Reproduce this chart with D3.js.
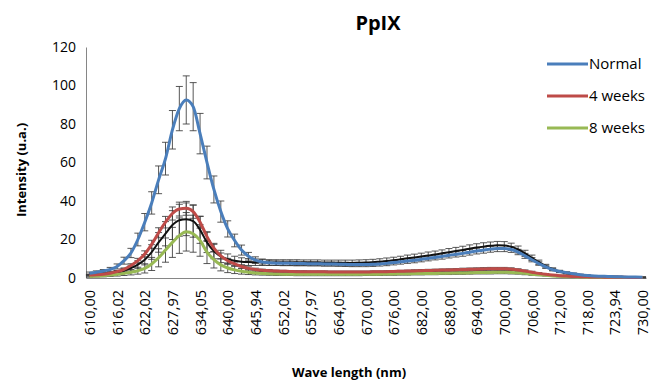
<!DOCTYPE html>
<html>
<head>
<meta charset="utf-8">
<script src="https://cdn.jsdelivr.net/npm/d3@7"></script>
<style>
  html, body { margin: 0; padding: 0; background: #fff; }
  svg text { font-family: "Open Sans", "Liberation Sans", sans-serif; fill: #000; }
</style>
</head>
<body>
<svg id="chart" width="664" height="385"></svg>
<script>
// wavelengths (nm), one per measured point
const wavelengths = [
  610.00, 611.50, 613.01, 614.51, 616.02, 617.52, 619.02, 620.52,
  622.02, 623.51, 625.00, 626.48, 627.97, 629.49, 631.01, 632.53,
  634.05, 635.54, 637.03, 638.51, 640.00, 641.49, 642.97, 644.46,
  645.94, 647.46, 648.98, 650.50, 652.02, 653.51, 655.00, 656.48,
  657.97, 659.49, 661.01, 662.53, 664.05, 665.54, 667.03, 668.51,
  670.00, 671.50, 673.00, 674.50, 676.00, 677.50, 679.00, 680.50,
  682.00, 683.50, 685.00, 686.50, 688.00, 689.50, 691.00, 692.50,
  694.00, 695.50, 697.00, 698.50, 700.00, 701.50, 703.00, 704.50,
  706.00, 707.50, 709.00, 710.50, 712.00, 713.50, 715.00, 716.50,
  718.00, 719.49, 720.97, 722.46, 723.94, 725.46, 726.97, 728.49,
  730.00
];

// labels shown on the category axis (every 4th wavelength)
const tickLabels = [
  "610,00", "616,02", "622,02", "627,97", "634,05", "640,00", "645,94",
  "652,02", "657,97", "664,05", "670,00", "676,00", "682,00", "688,00",
  "694,00", "700,00", "706,00", "712,00", "718,00", "723,94", "730,00"
];

const yTicks = [0, 20, 40, 60, 80, 100, 120];

const normal = [
  2.5, 3.0, 3.6, 4.5, 6.0, 9.0, 13.0, 20.0, 29.0, 39.0,
  51.0, 62.0, 77.0, 88.0, 92.5, 89.0, 75.0, 60.0, 46.0, 34.5,
  25.5, 19.5, 14.5, 11.3, 9.3, 8.3, 7.9, 7.7, 7.6, 7.6,
  7.5, 7.5, 7.4, 7.4, 7.3, 7.3, 7.2, 7.1, 7.0, 7.0,
  7.0, 7.1, 7.3, 7.6, 8.0, 8.4, 8.8, 9.2, 9.7, 10.2,
  10.7, 11.2, 11.8, 12.3, 12.8, 13.4, 14.0, 14.5, 15.0, 15.3,
  15.3, 14.8, 13.5, 11.5, 9.5, 7.5, 5.8, 4.3, 3.4, 2.8,
  2.2, 1.7, 1.3, 1.0, 0.9, 0.8, 0.7, 0.6, 0.5, 0.5, 0.4
];
const normalErr = [
  0.6, 0.7, 0.8, 1.0, 1.3, 1.8, 2.4, 3.3, 4.5, 5.8,
  7.2, 8.5, 10.0, 11.5, 12.5, 12.5, 10.5, 8.5, 7.0, 5.5,
  4.2, 3.3, 2.6, 2.0, 1.7, 1.5, 1.3, 1.2, 1.2, 1.2,
  1.2, 1.1, 1.1, 1.1, 1.1, 1.1, 1.1, 1.1, 1.1, 1.1,
  1.1, 1.1, 1.1, 1.2, 1.2, 1.2, 1.2, 1.3, 1.3, 1.3,
  1.3, 1.4, 1.4, 1.4, 1.5, 1.5, 1.5, 1.6, 1.6, 1.6,
  1.6, 1.5, 1.4, 1.3, 1.1, 0.9, 0.8, 0.6, 0.5, 0.4,
  0.4, 0.3, 0.3, 0.3, 0.2, 0.2, 0.2, 0.2, 0.2, 0.2, 0.2
];

const weeks4 = [
  1.5, 1.7, 2.0, 2.5, 3.3, 4.5, 6.5, 9.0, 12.5, 17.5,
  23.5, 29.0, 33.5, 35.8, 36.2, 34.5, 29.0, 21.5, 15.5, 11.5,
  9.0, 7.3, 6.0, 5.0, 4.4, 4.0, 3.8, 3.6, 3.5, 3.4,
  3.3, 3.3, 3.2, 3.2, 3.2, 3.1, 3.1, 3.1, 3.1, 3.1,
  3.1, 3.2, 3.2, 3.3, 3.4, 3.5, 3.6, 3.7, 3.8, 3.9,
  4.0, 4.1, 4.2, 4.3, 4.4, 4.5, 4.6, 4.7, 4.8, 4.8,
  4.8, 4.6, 4.2, 3.6, 3.0, 2.4, 1.9, 1.5, 1.2, 1.0,
  0.8, 0.7, 0.6, 0.5, 0.5, 0.4, 0.4, 0.4, 0.3, 0.3, 0.3
];
const weeks4Err = [
  0.3, 0.3, 0.4, 0.4, 0.5, 0.7, 0.9, 1.2, 1.6, 2.1,
  2.6, 3.0, 3.4, 3.6, 3.6, 3.5, 3.1, 2.5, 2.0, 1.5,
  1.2, 1.0, 0.9, 0.8, 0.7, 0.6, 0.6, 0.5, 0.5, 0.5,
  0.5, 0.5, 0.5, 0.5, 0.5, 0.5, 0.5, 0.5, 0.5, 0.5,
  0.5, 0.5, 0.5, 0.5, 0.5, 0.5, 0.5, 0.6, 0.6, 0.6,
  0.6, 0.6, 0.6, 0.6, 0.7, 0.7, 0.7, 0.7, 0.7, 0.7,
  0.7, 0.7, 0.6, 0.6, 0.5, 0.4, 0.4, 0.3, 0.3, 0.2,
  0.2, 0.2, 0.2, 0.1, 0.1, 0.1, 0.1, 0.1, 0.1, 0.1, 0.1
];

const weeks8 = [
  0.8, 1.0, 1.2, 1.5, 1.9, 2.4, 3.0, 3.8, 5.0, 7.3,
  10.5, 14.5, 18.5, 22.0, 24.0, 23.0, 19.5, 13.5, 9.5, 6.8,
  5.2, 4.2, 3.5, 3.0, 2.6, 2.4, 2.2, 2.1, 2.0, 2.0,
  1.9, 1.9, 1.9, 1.9, 1.9, 1.9, 1.9, 1.9, 1.9, 1.9,
  2.0, 2.0, 2.0, 2.1, 2.1, 2.2, 2.2, 2.3, 2.3, 2.4,
  2.4, 2.5, 2.5, 2.6, 2.6, 2.7, 2.8, 2.9, 2.9, 3.0,
  3.0, 2.9, 2.7, 2.4, 2.0, 1.7, 1.4, 1.1, 0.9, 0.7,
  0.6, 0.5, 0.4, 0.4, 0.3, 0.3, 0.3, 0.3, 0.2, 0.2, 0.2
];
const weeks8Err = [
  0.4, 0.5, 0.6, 0.7, 0.9, 1.1, 1.4, 1.8, 2.4, 3.4,
  4.7, 6.3, 7.8, 9.2, 10.0, 9.6, 8.2, 6.0, 4.3, 3.1,
  2.4, 1.9, 1.5, 1.2, 1.0, 0.9, 0.8, 0.8, 0.7, 0.7,
  0.7, 0.7, 0.7, 0.7, 0.7, 0.7, 0.7, 0.7, 0.7, 0.7,
  0.7, 0.7, 0.7, 0.7, 0.7, 0.7, 0.7, 0.7, 0.7, 0.7,
  0.7, 0.7, 0.7, 0.7, 0.7, 0.7, 0.7, 0.8, 0.8, 0.8,
  0.8, 0.8, 0.7, 0.7, 0.6, 0.5, 0.4, 0.3, 0.3, 0.2,
  0.2, 0.2, 0.1, 0.1, 0.1, 0.1, 0.1, 0.1, 0.1, 0.1, 0.1
];

// unlabelled black series
const control = [
  1.5, 1.7, 2.0, 2.4, 3.0, 3.9, 5.2, 7.0, 9.5, 13.5,
  18.5, 23.0, 27.5, 30.0, 30.5, 29.5, 25.0, 18.5, 14.0, 11.2,
  9.8, 9.0, 8.5, 8.3, 8.2, 8.1, 8.0, 8.0, 8.0, 8.0,
  8.0, 7.9, 7.9, 7.9, 7.8, 7.8, 7.8, 7.8, 7.8, 7.9,
  8.0, 8.2, 8.5, 8.8, 9.2, 9.7, 10.2, 10.7, 11.2, 11.7,
  12.2, 12.8, 13.4, 14.0, 14.6, 15.2, 15.8, 16.3, 16.7, 17.0,
  16.9, 16.2, 14.8, 12.8, 10.5, 8.2, 6.2, 4.6, 3.4, 2.5,
  1.9, 1.5, 1.2, 1.0, 0.9, 0.8, 0.7, 0.6, 0.5, 0.5, 0.4
];
const controlErr = [
  0.5, 0.5, 0.6, 0.7, 0.9, 1.1, 1.5, 2.0, 2.7, 3.8,
  5.1, 6.3, 7.5, 8.3, 8.5, 8.3, 7.0, 5.3, 4.0, 3.2,
  2.7, 2.3, 2.0, 1.8, 1.7, 1.6, 1.5, 1.5, 1.5, 1.5,
  1.5, 1.5, 1.5, 1.5, 1.5, 1.5, 1.5, 1.5, 1.5, 1.5,
  1.5, 1.5, 1.5, 1.6, 1.6, 1.6, 1.7, 1.7, 1.7, 1.8,
  1.8, 1.8, 1.9, 1.9, 1.9, 2.0, 2.0, 2.0, 2.0, 2.0,
  2.0, 1.9, 1.8, 1.6, 1.4, 1.1, 0.9, 0.7, 0.6, 0.5,
  0.4, 0.3, 0.3, 0.3, 0.2, 0.2, 0.2, 0.2, 0.2, 0.2, 0.2
];

// series in drawing order (last on top)
const series = [
  { name: null,      values: control, err: controlErr, color: "#111111", width: 2 },
  { name: "8 weeks", values: weeks8,  err: weeks8Err,  color: "#98b954", width: 3 },
  { name: "4 weeks", values: weeks4,  err: weeks4Err,  color: "#be4b48", width: 3 },
  { name: "Normal",  values: normal,  err: normalErr,  color: "#4a7ebb", width: 3 }
];
const legendOrder = ["Normal", "4 weeks", "8 weeks"];

const svg = d3.select("#chart");
const plotLeft = 86, plotRight = 646, plotTop = 47, plotBottom = 278;

const x = d3.scalePoint()
  .domain(wavelengths)
  .range([plotLeft, plotRight])
  .padding(0.5);

const y = d3.scaleLinear()
  .domain([0, 120])
  .range([plotBottom, plotTop]);

// title
svg.append("text")
  .attr("x", 378)
  .attr("y", 30)
  .attr("text-anchor", "middle")
  .style("font-size", "20px")
  .style("font-weight", "bold")
  .text("PpIX");

// y axis
const yAxis = svg.append("g")
  .attr("transform", "translate(" + plotLeft + ",0)")
  .call(d3.axisLeft(y).tickValues(yTicks).tickSize(0).tickPadding(10));
yAxis.select(".domain").attr("stroke", "#868686");
yAxis.selectAll("text")
  .style("font-size", "14px")
  .style("font-family", "'Open Sans', sans-serif")
  .attr("fill", "#000");

// x axis
const xTickValues = wavelengths.filter((d, i) => i % 4 === 0);
const xAxis = svg.append("g")
  .attr("transform", "translate(0," + plotBottom + ")")
  .call(d3.axisBottom(x)
    .tickValues(xTickValues)
    .tickSize(0)
    .tickFormat((d) => tickLabels[xTickValues.indexOf(d)]));
xAxis.select(".domain").attr("stroke", "#868686");
xAxis.selectAll("text")
  .attr("transform", "rotate(-90)")
  .attr("x", -12)
  .attr("y", 0)
  .attr("dy", "0.35em")
  .attr("text-anchor", "end")
  .attr("fill", "#000")
  .style("font-size", "14.5px")
  .style("font-family", "'Open Sans', sans-serif");

// axis titles
svg.append("text")
  .attr("transform", "translate(26,170) rotate(-90)")
  .attr("text-anchor", "middle")
  .style("font-size", "13px")
  .style("font-weight", "bold")
  .text("Intensity (u.a.)");

svg.append("text")
  .attr("x", 349)
  .attr("y", 377)
  .attr("text-anchor", "middle")
  .style("font-size", "13px")
  .style("font-weight", "bold")
  .text("Wave length (nm)");

// error bars
const capHalf = 3.5;
const errGroup = svg.append("g")
  .attr("stroke", "#3a3a3a")
  .attr("stroke-width", 1)
  .attr("stroke-opacity", 0.85);

series.forEach((s) => {
  const g = errGroup.append("g");
  const pts = s.values.map((v, i) => ({ w: wavelengths[i], v: v, e: s.err[i] }));
  g.selectAll(".bar")
    .data(pts)
    .enter().append("line")
    .attr("x1", (d) => x(d.w))
    .attr("x2", (d) => x(d.w))
    .attr("y1", (d) => y(d.v + d.e))
    .attr("y2", (d) => y(Math.max(0, d.v - d.e)));
  g.selectAll(".capTop")
    .data(pts)
    .enter().append("line")
    .attr("x1", (d) => x(d.w) - capHalf)
    .attr("x2", (d) => x(d.w) + capHalf)
    .attr("y1", (d) => y(d.v + d.e))
    .attr("y2", (d) => y(d.v + d.e));
  g.selectAll(".capBottom")
    .data(pts)
    .enter().append("line")
    .attr("x1", (d) => x(d.w) - capHalf)
    .attr("x2", (d) => x(d.w) + capHalf)
    .attr("y1", (d) => y(Math.max(0, d.v - d.e)))
    .attr("y2", (d) => y(Math.max(0, d.v - d.e)));
});

// lines
const line = d3.line()
  .x((d, i) => x(wavelengths[i]))
  .y((d) => y(d))
  .curve(d3.curveMonotoneX);

series.forEach((s) => {
  svg.append("path")
    .datum(s.values)
    .attr("fill", "none")
    .attr("stroke", s.color)
    .attr("stroke-width", s.width)
    .attr("stroke-linejoin", "round")
    .attr("d", line);
});

// legend
const legend = svg.append("g");
legendOrder.forEach((name, k) => {
  const s = series.find((d) => d.name === name);
  const row = legend.append("g")
    .attr("transform", "translate(547," + (64 + k * 32) + ")");
  row.append("line")
    .attr("x1", 0).attr("x2", 41)
    .attr("y1", 0).attr("y2", 0)
    .attr("stroke", s.color)
    .attr("stroke-width", 3);
  row.append("text")
    .attr("x", 42)
    .attr("y", 0)
    .attr("dy", "0.35em")
    .style("font-size", "15px")
    .text(name);
});
</script>
</body>
</html>
